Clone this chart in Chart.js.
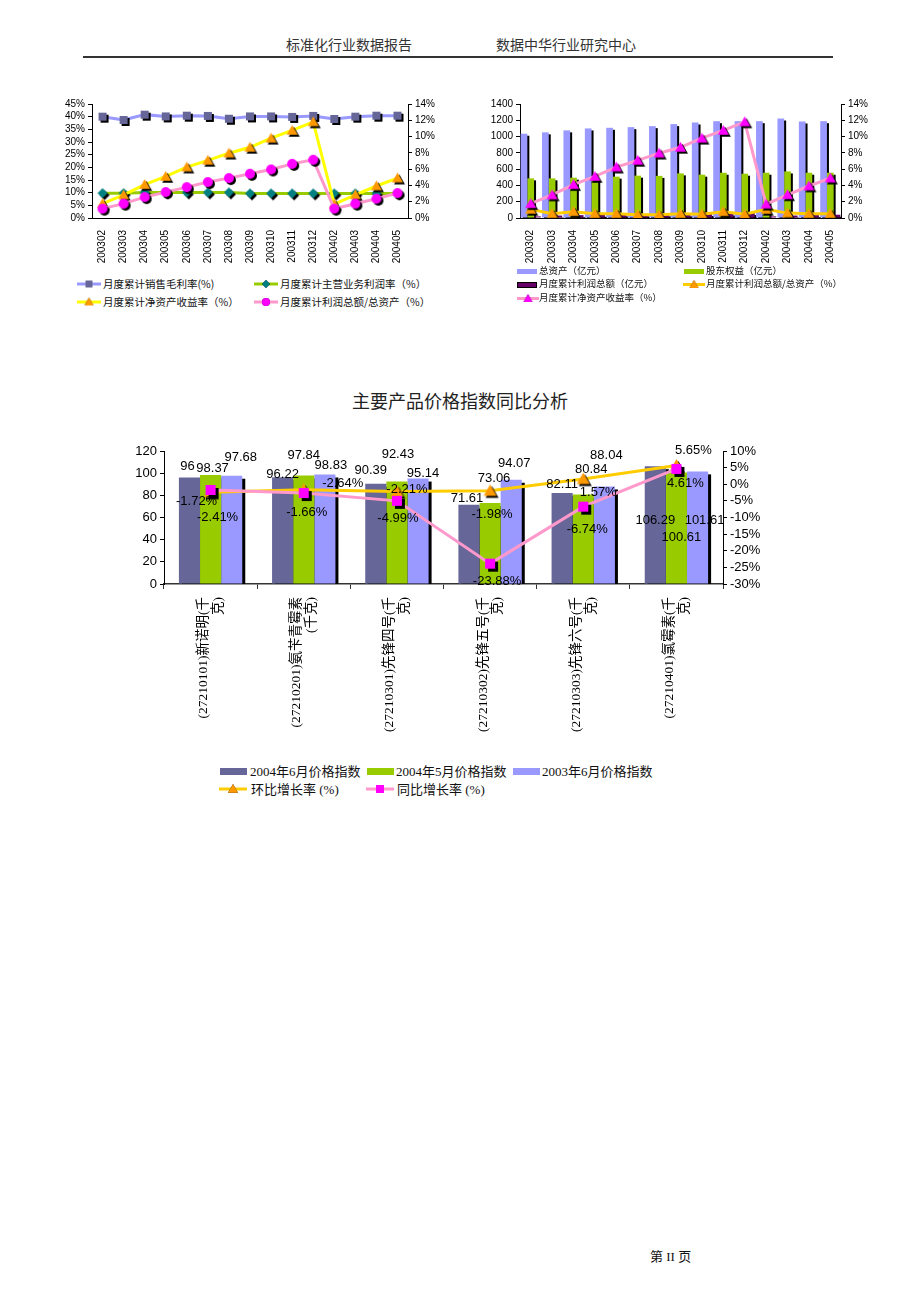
<!DOCTYPE html>
<html>
<head>
<meta charset="utf-8">
<script src="https://cdn.jsdelivr.net/npm/chart.js@4.4.0/dist/chart.umd.min.js"></script>
<style>
  body { margin: 0; width: 920px; height: 1302px; background: #fff; position: relative; overflow: hidden;
         font-family: "Liberation Serif", "Noto Sans CJK SC", serif; color: #111; }
  .abs { position: absolute; white-space: nowrap; }
  .hdr { font-family: "Noto Sans CJK SC", sans-serif; font-size: 14px; line-height: 18px; color: #333; }
  .lg1 { font-family: "Noto Sans CJK SC", sans-serif; font-size: 10.5px; line-height: 14px; }
  .lg2 { font-family: "Noto Sans CJK SC", sans-serif; font-size: 9.5px; line-height: 13px; }
  .lg3 { font-family: "Liberation Serif", "Noto Sans CJK SC", serif; font-size: 13px; line-height: 16px; }
  canvas { display: block; }
</style>
</head>
<body>

<div class="abs hdr" style="left:286px;top:35px">标准化行业数据报告</div>
<div class="abs hdr" style="left:496px;top:35px">数据中华行业研究中心</div>
<div class="abs" style="left:83px;top:56px;width:750px;height:2px;background:#333"></div>

<div class="abs" style="left:50px;top:95px"><canvas id="c1" width="391" height="170"></canvas></div>
<div class="abs" style="left:470px;top:95px"><canvas id="c2" width="410" height="170"></canvas></div>

<div class="abs" style="left:0;top:390px;width:920px;text-align:center;font-family:'Noto Sans CJK SC',sans-serif;font-size:18px;line-height:20px;color:#222">主要产品价格指数同比分析</div>
<div class="abs" style="left:120px;top:440px"><canvas id="c3" width="653" height="305"></canvas></div>

<div id="legends"></div>

<div class="abs" style="left:650px;top:1249px;font-size:13px;line-height:16px">第 II 页</div>

<script>
// ---- chart 1 / chart 2 data ----
const months = ['200302','200303','200304','200305','200306','200307','200308','200309','200310','200311','200312','200402','200403','200404','200405']
const grossMarginPct = [40.0,38.7,40.8,40.1,40.4,40.3,39.2,40.1,40.1,39.9,40.3,39.1,40.0,40.4,40.4]
const mainProfitPct = [9.8,9.8,10.1,10.1,10.1,10.1,10.1,9.7,9.7,9.7,9.7,9.7,9.7,9.7,9.7]
const roePct = [1.76,2.83,4.1,5.1,6.25,7.08,7.96,8.68,9.8,10.75,11.8,1.7,2.85,3.93,4.9]
const profitAssetPct = [1.15,1.76,2.57,3.18,3.79,4.41,4.9,5.43,5.96,6.65,7.15,1.15,1.76,2.37,3.06]

const totalAssets = [1035,1052,1076,1100,1108,1116,1128,1153,1173,1189,1189,1189,1222,1185,1189]
const equity = [487,487,495,480,508,520,517,548,532,556,544,556,572,556,556]
const profitTotal = [20,30,35,40,45,45,45,45,50,55,60,20,30,35,40]
const profitAssetMonthPct = [1.06,0.53,0.78,0.53,0.53,0.41,0.41,0.53,0.47,0.78,0.47,1.06,0.6,0.53,0.53]

// ---- chart 3 data ----
const products = [
    ['(27210101)新诺明(千', '克)'],
    ['(27210201)氨苄青霉素', '(千克)'],
    ['(27210301)先锋四号(千', '克)'],
    ['(27210302)先锋五号(千', '克)'],
    ['(27210303)先锋六号(千', '克)'],
    ['(27210401)氯霉素(千', '克)']
]
const idxJun04 = [96, 96.22, 90.39, 71.61, 82.11, 106.29]
const idxMay04 = [98.37, 97.84, 92.43, 73.06, 80.84, 100.61]
const idxJun03 = [97.68, 98.83, 95.14, 94.07, 88.04, 101.61]
const momPct = [-2.41, -1.66, -2.21, -1.98, 1.57, 5.65]
const yoyPct = [-1.72, -2.64, -4.99, -23.88, -6.74, 4.61]

const axisTicks1 = { left: [0, 45, 5], right: [0, 14, 2] }
const axisTicks2 = { left: [0, 1400, 200], right: [0, 14, 2] }
const axisTicks3 = { left: [0, 120, 20], right: [-30, 10, 5] }

// markers with a hard black drop shadow
function marker(shape, fill, size, off) {
    const n = Math.ceil(size + off * 2 + 2)
    const c = document.createElement('canvas')
    c.width = n; c.height = n
    const g = c.getContext('2d')
    const draw = (cx, cy, col) => {
        const r = size / 2
        g.fillStyle = col
        g.beginPath()
        if (shape === 'square') g.rect(cx - r, cy - r, size, size)
        else if (shape === 'diamond') { g.moveTo(cx, cy - r); g.lineTo(cx + r, cy); g.lineTo(cx, cy + r); g.lineTo(cx - r, cy) }
        else if (shape === 'triangle') { g.moveTo(cx, cy - r); g.lineTo(cx + r, cy + r * 0.75); g.lineTo(cx - r, cy + r * 0.75) }
        else g.arc(cx, cy, r, 0, Math.PI * 2)
        g.closePath()
        g.fill()
    }
    draw(n / 2 + off, n / 2 + off, '#000')
    draw(n / 2, n / 2, fill)
    return c
}

const fitSize = (prop, v) => s => { s[prop] = v }

// black shadows behind all bars, painted before any dataset
const barShadow = {
    id: 'barShadow',
    beforeDatasetsDraw(chart, args, opts) {
        const ctx = chart.ctx
        const a = chart.chartArea
        const off = opts.off || 2
        ctx.save()
        ctx.beginPath()
        ctx.rect(a.left, a.top, a.right - a.left, a.bottom - a.top)
        ctx.clip()
        ctx.fillStyle = '#000'
        chart.data.datasets.forEach((ds, di) => {
            const meta = chart.getDatasetMeta(di)
            if (meta.type !== 'bar') return
            meta.data.forEach(el => {
                const p = el.getProps(['x', 'y', 'base', 'width'], true)
                ctx.fillRect(p.x - p.width / 2 + off, Math.min(p.y, p.base) + off, p.width, Math.abs(p.base - p.y))
            })
        })
        ctx.restore()
    }
}

const valueLabels = {
    id: 'valueLabels',
    afterDatasetsDraw(chart, args, opts) {
        if (!opts.offsets) return
        const ctx = chart.ctx
        ctx.save()
        ctx.font = opts.font
        ctx.fillStyle = '#000'
        ctx.textAlign = 'center'
        ctx.textBaseline = 'middle'
        chart.data.datasets.forEach((ds, di) => {
            const meta = chart.getDatasetMeta(di)
            const offs = opts.offsets[di]
            meta.data.forEach((el, i) => {
                const v = ds.data[i]
                const text = ds.type === 'line' ? v.toFixed(2) + '%' : String(v)
                ctx.fillText(text, el.x + offs[i][0], el.y + offs[i][1])
            })
        })
        ctx.restore()
    }
}

Chart.defaults.animation = false
Chart.defaults.color = '#000'
Chart.defaults.font.family = '"Liberation Sans", Arial, sans-serif'

function yScale(pos, t, width, fontSize, fmt) {
    return {
        position: pos,
        min: t[0], max: t[1],
        afterFit: fitSize('width', width),
        border: { display: true, color: '#000', width: 1 },
        grid: { display: true, drawOnChartArea: false, color: '#000', tickLength: 4 },
        ticks: { stepSize: t[2], autoSkip: false, padding: 3, font: { size: fontSize }, callback: fmt }
    }
}

function xScale(height, fontSize) {
    return {
        offset: true,
        afterFit: fitSize('height', height),
        border: { display: true, color: '#000', width: 1 },
        grid: { display: false },
        ticks: { minRotation: 90, maxRotation: 90, autoSkip: false, padding: 4, font: { size: fontSize } }
    }
}

const pct = v => v + '%'

// ---------------- chart 1 ----------------
const m1 = {
    sq: marker('square', '#666699', 8, 2),
    dm: marker('diamond', '#008080', 10, 2),
    tr: marker('triangle', '#FF9900', 11, 2),
    ci: marker('circle', '#FF00FF', 10, 2)
}

new Chart(document.getElementById('c1'), {
    type: 'line',
    data: {
        labels: months,
        datasets: [
            { label: '月度累计销售毛利率(%)', data: grossMarginPct, yAxisID: 'y', borderColor: '#9999FF', borderWidth: 3, pointStyle: m1.sq, order: 3 },
            { label: '月度累计主营业务利润率（%）', data: mainProfitPct, yAxisID: 'y', borderColor: '#99CC00', borderWidth: 3, pointStyle: m1.dm, order: 2 },
            { label: '月度累计净资产收益率（%）', data: roePct, yAxisID: 'y1', borderColor: '#FFFF00', borderWidth: 3, pointStyle: m1.tr, order: 1 },
            { label: '月度累计利润总额/总资产（%）', data: profitAssetPct, yAxisID: 'y1', borderColor: '#FF99CC', borderWidth: 3, pointStyle: m1.ci, order: 0 }
        ]
    },
    options: {
        responsive: false,
        layout: { padding: { top: 8, left: 0, right: 0, bottom: 0 } },
        elements: { line: { tension: 0 } },
        plugins: { legend: { display: false }, tooltip: { enabled: false } },
        scales: {
            x: xScale(47, 10),
            y: yScale('left', axisTicks1.left, 42, 10, pct),
            y1: yScale('right', axisTicks1.right, 33, 10, pct)
        }
    }
})

// ---------------- chart 2 ----------------
const m2 = {
    tr: marker('triangle', '#FF9900', 11, 2),
    mg: marker('triangle', '#FF00FF', 11, 2)
}

new Chart(document.getElementById('c2'), {
    type: 'bar',
    data: {
        labels: months,
        datasets: [
            { label: '总资产（亿元）', data: totalAssets, yAxisID: 'y', backgroundColor: '#9999FF', order: 1 },
            { label: '股东权益（亿元）', data: equity, yAxisID: 'y', backgroundColor: '#99CC00', order: 1 },
            { label: '月度累计利润总额（亿元）', data: profitTotal, yAxisID: 'y', backgroundColor: '#660066', order: 1 },
            { type: 'line', label: '月度累计利润总额/总资产（%）', data: profitAssetMonthPct, yAxisID: 'y1', borderColor: '#FFCC00', borderWidth: 3, pointStyle: m2.tr, order: 0 },
            { type: 'line', label: '月度累计净资产收益率（%）', data: roePct, yAxisID: 'y1', borderColor: '#FF99CC', borderWidth: 3, pointStyle: m2.mg, order: -1 }
        ]
    },
    options: {
        responsive: false,
        layout: { padding: { top: 8, left: 0, right: 0, bottom: 0 } },
        elements: { line: { tension: 0 } },
        datasets: { bar: { categoryPercentage: 0.94, barPercentage: 1.0 } },
        plugins: { legend: { display: false }, tooltip: { enabled: false }, barShadow: { off: 2 } },
        scales: {
            x: xScale(47, 10),
            y: yScale('left', axisTicks2.left, 50, 10),
            y1: yScale('right', axisTicks2.right, 39, 10, pct)
        }
    },
    plugins: [barShadow]
})

// ---------------- chart 3 ----------------
const m3 = {
    tr: marker('triangle', '#FF9900', 13, 2),
    sq: marker('square', '#FF00FF', 10, 3)
}

// label offsets (dx, dy) from each bar top / point, as placed in the original
const labelOffsets3 = [
    [[-2, -11], [0, -3], [-5, -13], [-2, -6], [0, -9], [0, 54]],
    [[2, -7], [0, -20], [1, -27], [4, -25], [8, -25], [5, 65]],
    [[9, -18], [6, -9], [5, -5], [3, -16], [2, -31], [7, 49]],
    [[7, 25], [3, 23], [10, -2], [2, 24], [15, 13], [17, -15]],
    [[-14, 11], [39, -10], [1, 18], [7, 18], [4, 23], [9, 15]]
]

new Chart(document.getElementById('c3'), {
    type: 'bar',
    data: {
        labels: products,
        datasets: [
            { label: '2004年6月价格指数', data: idxJun04, yAxisID: 'y', backgroundColor: '#666699', order: 1 },
            { label: '2004年5月价格指数', data: idxMay04, yAxisID: 'y', backgroundColor: '#99CC00', order: 1 },
            { label: '2003年6月价格指数', data: idxJun03, yAxisID: 'y', backgroundColor: '#9999FF', order: 1 },
            { type: 'line', label: '环比增长率 (%)', data: momPct, yAxisID: 'y1', borderColor: '#FFCC00', borderWidth: 3, pointStyle: m3.tr, order: 0 },
            { type: 'line', label: '同比增长率 (%)', data: yoyPct, yAxisID: 'y1', borderColor: '#FF99CC', borderWidth: 3, pointStyle: m3.sq, order: -1 }
        ]
    },
    options: {
        responsive: false,
        layout: { padding: { top: 11, left: 0, right: 0, bottom: 0 } },
        elements: { line: { tension: 0 } },
        datasets: { bar: { categoryPercentage: 0.68, barPercentage: 1.0 } },
        plugins: {
            legend: { display: false }, tooltip: { enabled: false },
            barShadow: { off: 3 },
            valueLabels: { offsets: labelOffsets3, font: '13px "Liberation Sans", Arial, sans-serif' }
        },
        scales: {
            x: {
                afterFit: fitSize('height', 161),
                border: { display: true, color: '#333', width: 1.5 },
                grid: { display: true, drawOnChartArea: false, color: '#333', tickLength: 5 },
                ticks: {
                    minRotation: 90, maxRotation: 90, autoSkip: false, padding: 8, labelOffset: -7,
                    font: { size: 13.5, family: '"Liberation Serif", "Noto Sans CJK SC", serif', lineHeight: 1.1 }
                }
            },
            y: yScale('left', axisTicks3.left, 44, 13),
            y1: yScale('right', axisTicks3.right, 50, 13, pct)
        }
    },
    plugins: [barShadow, valueLabels]
})

// ---------------- HTML legends ----------------
const legendRoot = document.getElementById('legends')

function swatch(kind, color, mk, w, h) {
    const c = document.createElement('canvas')
    c.width = w; c.height = h
    const g = c.getContext('2d')
    if (kind === 'box') {
        g.fillStyle = color
        g.fillRect(0, 0, w, h)
    } else if (kind === 'boxline') {
        g.fillStyle = '#000'
        g.fillRect(0, 0, w, h)
        g.fillStyle = color
        g.fillRect(1, 1, w - 2, h - 2)
    } else {
        g.strokeStyle = color
        g.lineWidth = 3
        g.beginPath(); g.moveTo(0, h / 2); g.lineTo(w, h / 2); g.stroke()
        if (mk) g.drawImage(mk, (w - mk.width) / 2, (h - mk.height) / 2)
    }
    return c
}

function legendItem(cls, sw, swX, textX, cy, text) {
    sw.className = 'abs'
    sw.style.left = swX + 'px'
    sw.style.top = (cy - sw.height / 2) + 'px'
    legendRoot.appendChild(sw)
    const d = document.createElement('div')
    d.className = 'abs ' + cls
    d.style.left = textX + 'px'
    d.style.top = (cy - 7.5) + 'px'
    d.textContent = text
    legendRoot.appendChild(d)
}

// chart 1
legendItem('lg1', swatch('line', '#9999FF', marker('square', '#666699', 7, 0), 24, 12), 77, 103, 284, '月度累计销售毛利率(%)')
legendItem('lg1', swatch('line', '#99CC00', marker('diamond', '#008080', 8, 0), 24, 12), 254, 280, 284, '月度累计主营业务利润率（%）')
legendItem('lg1', swatch('line', '#FFFF00', marker('triangle', '#FF9900', 9, 0), 24, 12), 77, 103, 302, '月度累计净资产收益率（%）')
legendItem('lg1', swatch('line', '#FF99CC', marker('circle', '#FF00FF', 8, 0), 24, 12), 254, 280, 302, '月度累计利润总额/总资产（%）')
// chart 2
legendItem('lg2', swatch('box', '#9999FF', null, 20, 5), 517, 539, 271, '总资产（亿元）')
legendItem('lg2', swatch('box', '#99CC00', null, 20, 5), 684, 706, 271, '股东权益（亿元）')
legendItem('lg2', swatch('boxline', '#660066', null, 20, 6), 517, 539, 284.5, '月度累计利润总额（亿元）')
legendItem('lg2', swatch('line', '#FFCC00', marker('triangle', '#FF9900', 9, 0), 22, 11), 683, 706, 284.5, '月度累计利润总额/总资产（%）')
legendItem('lg2', swatch('line', '#FF99CC', marker('triangle', '#FF00FF', 9, 0), 22, 11), 517, 539, 298, '月度累计净资产收益率（%）')
// chart 3
legendItem('lg3', swatch('box', '#666699', null, 27, 7), 220, 250, 771, '2004年6月价格指数')
legendItem('lg3', swatch('box', '#99CC00', null, 27, 7), 367, 396, 771, '2004年5月价格指数')
legendItem('lg3', swatch('box', '#9999FF', null, 27, 7), 513, 542, 771, '2003年6月价格指数')
legendItem('lg3', swatch('line', '#FFCC00', marker('triangle', '#FF9900', 10, 0), 28, 12), 219, 251, 789, '环比增长率 (%)')
legendItem('lg3', swatch('line', '#FF99CC', marker('square', '#FF00FF', 8, 0), 28, 12), 366, 397, 789, '同比增长率 (%)')
</script>
</body>
</html>
